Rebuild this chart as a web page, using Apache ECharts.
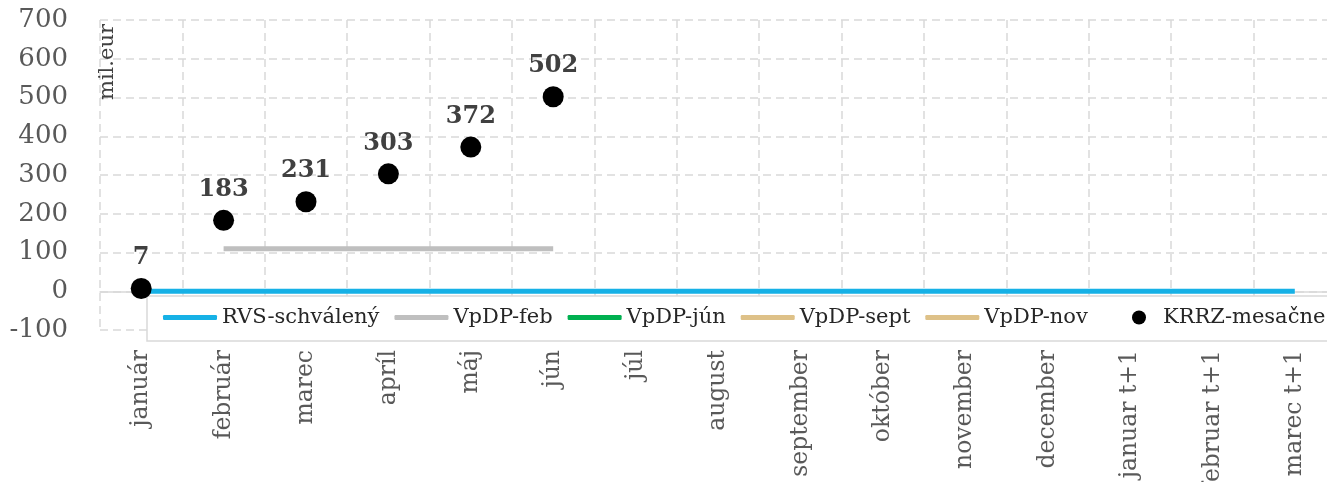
<!DOCTYPE html>
<html>
<head>
<meta charset="utf-8">
<script src="https://cdn.jsdelivr.net/npm/echarts@6/dist/echarts.min.js"></script>
<style>
  html, body { margin: 0; padding: 0; background: #ffffff; }
  #chart { width: 1327px; height: 482px; }
</style>
</head>
<body>
<div id="chart"></div>
<script>
// ---- data ----
var categories = ['január','február','marec','apríl','máj','jún','júl','august','september','október','november','december','januar t+1','februar t+1','marec t+1'];
var rvsSchvaleny = [0,0,0,0,0,0,0,0,0,0,0,0,0,0,0];
var vpdpFeb = [null,110,110,110,110,110,null,null,null,null,null,null,null,null,null];
var vpdpJun = [null,null,null,null,null,null,null,null,null,null,null,null,null,null,null];
var vpdpSept = [null,null,null,null,null,null,null,null,null,null,null,null,null,null,null];
var vpdpNov = [null,null,null,null,null,null,null,null,null,null,null,null,null,null,null];
var krrzMesacne = [7,183,231,303,372,502,null,null,null,null,null,null,null,null,null];
var yTicks = { min: -100, max: 700, interval: 100 };
var unitLabel = 'mil.eur';

var FONT = 'DejaVu Serif';
var gridColor = '#d9d9d9';

var chart = echarts.init(document.getElementById('chart'), null, { renderer: 'canvas' });

function lineSeries(name, data, color, width) {
  return {
    name: name, type: 'line', data: data, symbol: 'none', showSymbol: false,
    lineStyle: { color: color, width: width, cap: 'butt' },
    itemStyle: { color: color },
    z: 2, silent: true, connectNulls: false
  };
}

var lineLegendNames = ['RVS-schválený','VpDP-feb','VpDP-jún','VpDP-sept','VpDP-nov'];

var option = {
  animation: false,
  backgroundColor: '#ffffff',
  grid: { left: 100, top: 20, width: 1236, height: 310, containLabel: false, outerBoundsMode: 'none' },
  xAxis: {
    type: 'category',
    data: categories,
    boundaryGap: true,
    axisLine: { show: true, onZero: true, lineStyle: { color: gridColor, width: 1.5 } },
    axisTick: { show: false },
    axisLabel: {
      rotate: 90, margin: 20, interval: 0, hideOverlap: false,
      align: 'right', verticalAlign: 'middle',
      fontFamily: FONT, fontSize: 23.5, color: '#595959'
    },
    splitLine: { show: true, lineStyle: { color: gridColor, width: 1.5, type: [8, 5] } }
  },
  yAxis: {
    type: 'value',
    min: yTicks.min, max: yTicks.max, interval: yTicks.interval,
    axisLine: { show: false },
    axisTick: { show: false },
    axisLabel: { margin: 32, fontFamily: FONT, fontSize: 26, color: '#595959' },
    splitLine: { show: true, lineStyle: { color: gridColor, width: 1.5, type: [8, 5] } }
  },
  graphic: [
    {
      type: 'rect', z: 3, silent: true,
      shape: { x: 147, y: 296, width: 1220, height: 45 },
      style: { fill: '#ffffff', stroke: '#d9d9d9', lineWidth: 1.5 }
    },
    {
      type: 'text', z: 3, silent: true,
      x: 108, y: 62, rotation: Math.PI / 2,
      style: {
        text: unitLabel, fontFamily: FONT, fontSize: 21, fill: '#404040',
        align: 'center', verticalAlign: 'middle'
      }
    }
  ],
  legend: [
    {
      data: lineLegendNames.map(function (n) { return { name: n, icon: 'roundRect' }; }),
      left: 163, top: 307, padding: 0,
      itemWidth: 54, itemHeight: 5, itemGap: 15,
      z: 10,
      textStyle: { fontFamily: FONT, fontSize: 21, color: '#262626' }
    },
    {
      data: [{ name: 'KRRZ-mesačne', icon: 'circle' }],
      left: 1132, top: 307, padding: 0,
      itemWidth: 14, itemHeight: 14,
      z: 10,
      textStyle: { fontFamily: FONT, fontSize: 21, color: '#262626', padding: [0, 0, 0, 12] }
    }
  ],
  series: [
    lineSeries('RVS-schválený', rvsSchvaleny, '#16b1e6', 5),
    lineSeries('VpDP-feb', vpdpFeb, '#bfbfbf', 5),
    lineSeries('VpDP-jún', vpdpJun, '#00b050', 5),
    lineSeries('VpDP-sept', vpdpSept, '#dec188', 5),
    lineSeries('VpDP-nov', vpdpNov, '#dec188', 5),
    {
      name: 'KRRZ-mesačne', type: 'scatter', data: krrzMesacne,
      symbol: 'circle', symbolSize: 21,
      itemStyle: { color: '#000000', opacity: 1 },
      z: 6,
      label: {
        show: true, position: 'top', distance: 8,
        fontFamily: FONT, fontSize: 24, fontWeight: 'bold', color: '#404040'
      }
    }
  ]
};

chart.setOption(option);
</script>
</body>
</html>
